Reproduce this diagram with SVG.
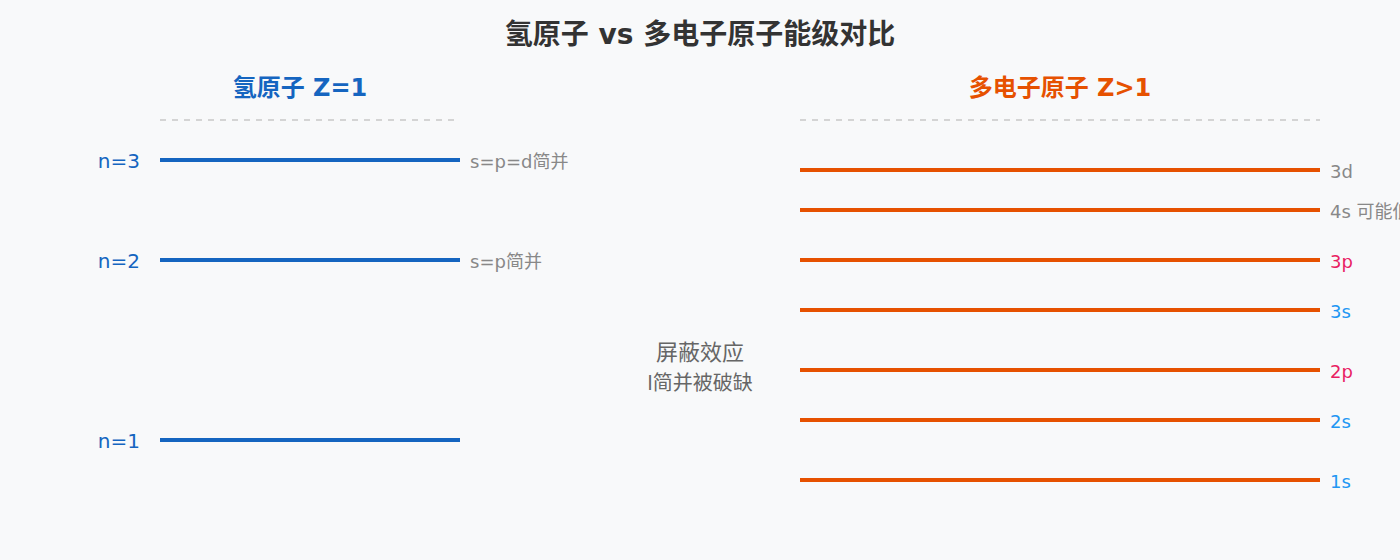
<svg xmlns="http://www.w3.org/2000/svg" width="1400" height="560" viewBox="0 0 1400 560">
<style>
text{font-family:"DejaVu Sans","Noto Sans CJK SC",sans-serif}
.title{font-size:28px;font-weight:bold;fill:#333}
.hh{font-size:24px;font-weight:bold;fill:#1565C0}
.hm{font-size:24px;font-weight:bold;fill:#E65100}
.sep{stroke:#c8c8c8;stroke-width:1.5;stroke-dasharray:6 6}
.lh{stroke:#1565C0;stroke-width:4}
.lm{stroke:#E65100;stroke-width:4}
.nl{font-size:20px;fill:#1565C0;text-anchor:end}
.note{font-size:18px;fill:#888}
.ml{font-size:18px}
.c{fill:#666;text-anchor:middle}
</style>
<rect width="1400" height="560" fill="#F8F9FA"/>
<text class="title" x="700" y="44" text-anchor="middle">氢原子 vs 多电子原子能级对比</text>
<g id="h-header"><text class="hh" x="300" y="96" text-anchor="middle">氢原子 Z=1</text><line class="sep" x1="160" y1="120" x2="460" y2="120"/></g>
<g id="m-header"><text class="hm" x="1060" y="96" text-anchor="middle">多电子原子 Z&gt;1</text><line class="sep" x1="800" y1="120" x2="1320" y2="120"/></g>
<g id="h-n3"><line class="lh" x1="160" y1="160" x2="460" y2="160"/><text class="nl" x="140" y="168">n=3</text><text class="note" x="470" y="168">s=p=d简并</text></g>
<g id="h-n2"><line class="lh" x1="160" y1="260" x2="460" y2="260"/><text class="nl" x="140" y="268">n=2</text><text class="note" x="470" y="268">s=p简并</text></g>
<g id="h-n1"><line class="lh" x1="160" y1="440" x2="460" y2="440"/><text class="nl" x="140" y="448">n=1</text></g>
<g id="shield"><text class="c" x="700" y="360" font-size="22">屏蔽效应</text><text class="c" x="700" y="390" font-size="20">l简并被破缺</text></g>
<g id="m-3d"><line class="lm" x1="800" y1="170" x2="1320" y2="170"/><text class="ml" x="1330" y="178" fill="#888">3d</text></g>
<g id="m-4s"><line class="lm" x1="800" y1="210" x2="1320" y2="210"/><text class="ml" x="1330" y="218" fill="#888">4s 可能低于3d</text></g>
<g id="m-3p"><line class="lm" x1="800" y1="260" x2="1320" y2="260"/><text class="ml" x="1330" y="268" fill="#E91E63">3p</text></g>
<g id="m-3s"><line class="lm" x1="800" y1="310" x2="1320" y2="310"/><text class="ml" x="1330" y="318" fill="#2196F3">3s</text></g>
<g id="m-2p"><line class="lm" x1="800" y1="370" x2="1320" y2="370"/><text class="ml" x="1330" y="378" fill="#E91E63">2p</text></g>
<g id="m-2s"><line class="lm" x1="800" y1="420" x2="1320" y2="420"/><text class="ml" x="1330" y="428" fill="#2196F3">2s</text></g>
<g id="m-1s"><line class="lm" x1="800" y1="480" x2="1320" y2="480"/><text class="ml" x="1330" y="488" fill="#2196F3">1s</text></g>
<g id="connectors"/>
</svg>
